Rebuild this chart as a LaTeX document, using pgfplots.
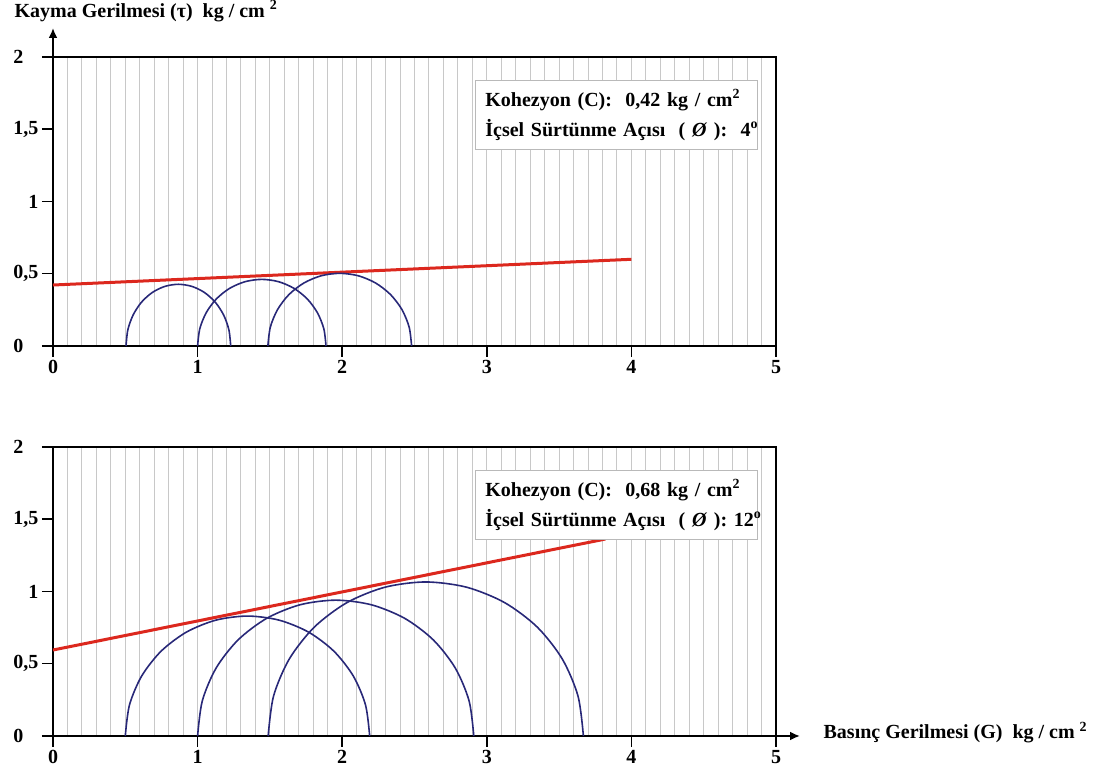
\documentclass[border=0pt]{standalone}
\usepackage{pgfplots}
\pgfplotsset{compat=1.18}
\usetikzlibrary{arrows.meta}
\usepackage{fontspec}
\setmainfont{Liberation Serif}
\definecolor{arcc}{RGB}{40,40,120}
\definecolor{redl}{RGB}{220,40,30}
\definecolor{gridc}{RGB}{200,200,200}
\tikzset{
 infobox/.style={draw=gray!55, fill=white, line width=0.8pt, anchor=north west,
  inner xsep=10pt, inner ysep=9pt, text width=262pt, align=left,
  font=\fontsize{20}{30}\selectfont\bfseries},
}
\pgfplotsset{
 panel/.style={
  scale only axis, width=723pt, height=289pt, anchor=south west,
  xmin=0, xmax=5, ymin=0, ymax=2, clip=false,
  axis line style={line width=2.5pt},
  xtick={0,1,2,3,4,5}, ytick={0,0.5,1,1.5,2},
  xticklabels={0,1,2,3,4,5},
  yticklabels={{0\hphantom{,5}},{0,5},1,{1,5},{2\hphantom{,5}}},
  minor x tick num=9,
  xmajorgrids, xminorgrids,
  major grid style={gridc, line width=1pt},
  minor grid style={gridc, line width=1pt},
  tick align=outside, major tick length=11pt, minor tick length=0pt,
  major tick style={black, line width=1.5pt},
  xtick pos=bottom, ytick pos=left,
  tick label style={font=\fontsize{20}{22}\selectfont\bfseries},
 },
 arcs/.style={arcc, line width=1.6pt, smooth, no marks},
 rline/.style={redl, line width=3pt, no marks},
}
\begin{document}
\begin{tikzpicture}
\useasboundingbox (0pt,0pt) rectangle (1093pt,773pt);
% ---------- top panel ----------
\begin{axis}[panel, at={(53pt,427pt)},
  ylabel={Kayma Gerilmesi (τ)\ \ kg / cm \textsuperscript{2}},
  every axis y label/.style={at={(rel axis cs:-0.058,1.137)}, anchor=base west,
    font=\fontsize{20}{22}\selectfont\bfseries}]
\addplot[rline] coordinates {(0,0.422) (4,0.60)};
\addplot[arcs] coordinates {(1.229,0) (1.2167,0.1105) (1.1805,0.2135) (1.123,0.302) (1.048,0.3698) (0.9607,0.4124) (0.867,0.427) (0.7733,0.4124) (0.686,0.3698) (0.611,0.302) (0.5535,0.2135) (0.5173,0.1105) (0.505,0)};
\addplot[arcs] coordinates {(1.888,0) (1.8729,0.1193) (1.8285,0.2305) (1.758,0.326) (1.666,0.3992) (1.5589,0.4453) (1.444,0.461) (1.3291,0.4453) (1.222,0.3992) (1.13,0.326) (1.0595,0.2305) (1.0151,0.1193) (1.0,0)};
\addplot[arcs] coordinates {(2.48,0) (2.4631,0.1302) (2.4134,0.2515) (2.3344,0.3557) (2.2315,0.4356) (2.1116,0.4859) (1.983,0.503) (1.8544,0.4859) (1.7345,0.4356) (1.6316,0.3557) (1.5526,0.2515) (1.5029,0.1302) (1.486,0)};
\draw[line width=2pt, -{Latex[length=10pt,width=9pt]}] (axis cs:0,2) -- ++(0pt,29pt);
\node[infobox] at (rel axis cs:0.5837,0.92) {\mbox{Kohezyon (C):\ \ 0,42 kg / cm\textsuperscript{2}}\\\mbox{İçsel Sürtünme Açısı\ \ ( \textit{Ø} ):\ \ 4\textsuperscript{o}}};
\end{axis}
% ---------- bottom panel ----------
\begin{axis}[panel, at={(53pt,37pt)},
  xlabel={Basınç Gerilmesi (G)\ \ kg / cm \textsuperscript{2}},
  every axis x label/.style={at={(rel axis cs:1.061,-0.010)}, anchor=base west,
    font=\fontsize{20}{22}\selectfont\bfseries}]
\addplot[rline] coordinates {(0,0.595) (3.82,1.363)};
\addplot[arcs] coordinates {(2.19,0) (2.1612,0.2148) (2.0768,0.415) (1.9425,0.5869) (1.7675,0.7188) (1.5637,0.8017) (1.345,0.83) (1.1263,0.8017) (0.9225,0.7188) (0.7475,0.5869) (0.6132,0.415) (0.5288,0.2148) (0.5,0)};
\addplot[arcs] coordinates {(2.91,0) (2.8774,0.2433) (2.7821,0.47) (2.6303,0.6647) (2.4325,0.814) (2.2022,0.9079) (1.955,0.94) (1.7078,0.9079) (1.4775,0.814) (1.2797,0.6647) (1.1279,0.47) (1.0326,0.2433) (1.0,0)};
\addplot[arcs] coordinates {(3.668,0) (3.6308,0.2759) (3.5219,0.533) (3.3487,0.7538) (3.123,0.9232) (2.8601,1.0297) (2.578,1.066) (2.2959,1.0297) (2.033,0.9232) (1.8073,0.7538) (1.6341,0.533) (1.5252,0.2759) (1.488,0)};
\draw[line width=2pt, -{Latex[length=10pt,width=9pt]}] (axis cs:5,0) -- ++(24pt,0pt);
\node[infobox] at (rel axis cs:0.5837,0.92) {\mbox{Kohezyon (C):\ \ 0,68 kg / cm\textsuperscript{2}}\\\mbox{İçsel Sürtünme Açısı\ \ ( \textit{Ø} ):\ 12\textsuperscript{o}}};
\end{axis}
\end{tikzpicture}
\end{document}
